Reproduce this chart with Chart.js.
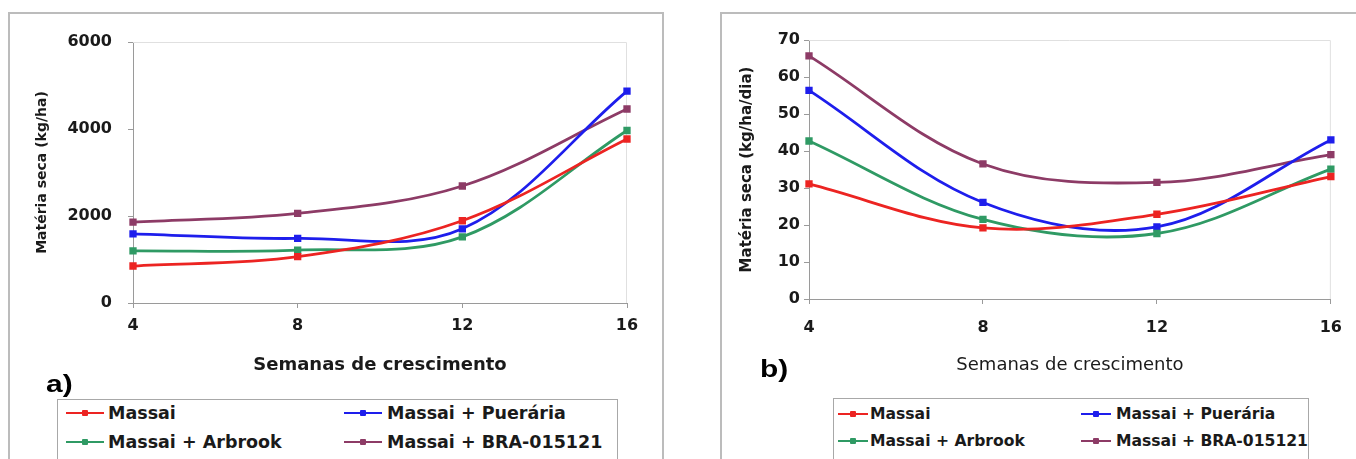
<!DOCTYPE html>
<html>
<head>
<meta charset="utf-8">
<script src="https://cdn.jsdelivr.net/npm/chart.js@4.4.1/dist/chart.umd.min.js"></script>
<style>
  body { margin: 0; background: #fff; width: 1356px; height: 459px; overflow: hidden; position: relative; font-family: 'DejaVu Sans', sans-serif; }
  .frame { position: absolute; border: 2px solid #bcbcbc; }
  #frameA { left: 8px; top: 12px; width: 652px; height: 470px; }
  #frameB { left: 720px; top: 12px; width: 660px; height: 470px; }
  .wrap { position: absolute; top: 0; height: 459px; }
  #wrapA { left: 0; width: 680px; }
  #wrapB { left: 680px; width: 676px; }
  .legend { position: absolute; border: 1px solid #a8a8a8; height: 90px; background: #fff; }
  #legA { left: 57px; top: 399px; width: 559px; }
  #legB { left: 833px; top: 398px; width: 474px; }
  .item { position: absolute; font-weight: bold; color: #1a1a1a; white-space: nowrap; line-height: 20px; }
  .sw { position: absolute; height: 2px; }
  .dot { position: absolute; width: 6px; height: 6px; top: -2px; border-radius: 1px; }
  .tag { position: absolute; font-family: 'Liberation Sans', Arial, sans-serif; font-weight: bold; font-size: 23px; line-height: 24px; color: #000; transform: scaleX(1.3); transform-origin: left center; }
</style>
</head>
<body>
<div class="frame" id="frameA"></div>
<div class="frame" id="frameB"></div>
<div class="wrap" id="wrapA"><canvas id="chartA"></canvas></div>
<div class="wrap" id="wrapB"><canvas id="chartB"></canvas></div>
<div class="tag" style="left:46px;top:372px;">a)</div>
<div class="tag" style="left:760px;top:357px;">b)</div>
<div class="legend" id="legA"></div>
<div class="legend" id="legB"></div>
<script>
// Semanas de crescimento
const weeks = ['4', '8', '12', '16'];
const seriesNames = ['Massai', 'Massai + Puerária', 'Massai + Arbrook', 'Massai + BRA-015121'];
const seriesColors = ['#ec2422', '#1e1eec', '#2f9a64', '#8d3b66'];

// a) Matéria seca (kg/ha)
const massaiA = [850, 1065, 1890, 3770];
const puerariaA = [1590, 1485, 1705, 4870];
const arbrookA = [1200, 1215, 1520, 3965];
const braA = [1860, 2060, 2690, 4460];
const yTicksA = [0, 2000, 4000, 6000];

// b) Matéria seca (kg/ha/dia)
const massaiB = [31.1, 19.2, 22.9, 33.1];
const puerariaB = [56.4, 26.1, 19.5, 43.0];
const arbrookB = [42.7, 21.5, 17.7, 35.1];
const braB = [65.7, 36.5, 31.5, 39.0];
const yTicksB = [0, 10, 20, 30, 40, 50, 60, 70];

Chart.defaults.font.family = "'DejaVu Sans', sans-serif";

// moldura clara da área do gráfico (topo e direita)
const plotFrame = {
  id: 'plotFrame',
  beforeDatasetsDraw(chart) {
    const { ctx, chartArea: a } = chart;
    ctx.save();
    ctx.strokeStyle = '#e0e0e0';
    ctx.lineWidth = 1;
    ctx.beginPath();
    ctx.moveTo(a.left, a.top + 0.5);
    ctx.lineTo(a.right - 0.5, a.top + 0.5);
    ctx.lineTo(a.right - 0.5, a.bottom);
    ctx.stroke();
    ctx.restore();
  }
};

function makeChart(id, values, yTicks, yTitle, g) {
  // ordem de desenho: Massai, Arbrook, Puerária, BRA
  const order = [0, 2, 1, 3];
  const datasets = order.map(i => ({
    label: seriesNames[i],
    data: values[i],
    borderColor: seriesColors[i],
    backgroundColor: seriesColors[i],
    borderWidth: 2.8,
    pointStyle: 'rect',
    pointRadius: 3.2,
    tension: 0.35,
    fill: false
  }));
  return new Chart(document.getElementById(id), {
    type: 'line',
    data: { labels: weeks, datasets: datasets },
    options: {
      responsive: true,
      maintainAspectRatio: false,
      animation: false,
      layout: { padding: { top: g.top, right: g.right, bottom: 0, left: 0 } },
      plugins: { legend: { display: false }, tooltip: { enabled: false } },
      scales: {
        x: {
          offset: false,
          grid: { drawOnChartArea: false, tickLength: 5, color: '#9a9a9a' },
          border: { color: '#9a9a9a' },
          ticks: { font: { size: 16, weight: 'bold' }, color: '#1a1a1a', padding: g.xPad, maxRotation: 0 },
          title: {
            display: true, text: 'Semanas de crescimento', color: '#1a1a1a',
            font: { size: 18, weight: g.xTitleWeight }, padding: { top: 0, bottom: g.xTitlePad }
          },
          afterFit(s) { s.height = g.xH; }
        },
        y: {
          min: yTicks[0],
          max: yTicks[yTicks.length - 1],
          afterBuildTicks(s) { s.ticks = yTicks.map(v => ({ value: v })); },
          grid: { drawOnChartArea: false, tickLength: 5, color: '#9a9a9a' },
          border: { color: '#9a9a9a' },
          ticks: { font: { size: 16, weight: 'bold' }, color: '#1a1a1a', padding: g.yPad, callback: v => String(v) },
          title: {
            display: true, text: yTitle, color: '#1a1a1a',
            font: { size: g.yTitleSize, weight: 'bold' }, padding: { top: g.yTitlePad, bottom: 0 }
          },
          afterFit(s) { s.width = g.yW; }
        }
      }
    },
    plugins: [plotFrame]
  });
}

makeChart('chartA', [massaiA, puerariaA, arbrookA, braA], yTicksA, 'Matéria seca (kg/ha)', {
  top: 42, right: 53, xH: 156, xPad: 8, xTitlePad: 83, xTitleWeight: 'bold',
  yW: 133, yPad: 16, yTitleSize: 14, yTitlePad: 34
});

makeChart('chartB', [massaiB, puerariaB, arbrookB, braB], yTicksB, 'Matéria seca (kg/ha/dia)', {
  top: 40, right: 18, xH: 160, xPad: 14, xTitlePad: 83, xTitleWeight: 'normal',
  yW: 129, yPad: 4, yTitleSize: 15, yTitlePad: 58
});

// Legenda em duas colunas
function buildLegend(id, fontSize, rowY, swX, swLen, textX) {
  const box = document.getElementById(id);
  seriesNames.forEach((name, i) => {
    const row = Math.floor(i / 2), col = i % 2;
    const sw = document.createElement('div');
    sw.className = 'sw';
    sw.style.left = swX[col] + 'px';
    sw.style.top = (rowY[row] - 1) + 'px';
    sw.style.width = swLen + 'px';
    sw.style.background = seriesColors[i];
    const dot = document.createElement('div');
    dot.className = 'dot';
    dot.style.left = (swLen / 2 - 3) + 'px';
    dot.style.background = seriesColors[i];
    sw.appendChild(dot);
    box.appendChild(sw);

    const txt = document.createElement('div');
    txt.className = 'item';
    txt.textContent = name;
    txt.style.fontSize = fontSize + 'px';
    txt.style.left = textX[col] + 'px';
    txt.style.top = (rowY[row] - 10) + 'px';
    box.appendChild(txt);
  });
}

buildLegend('legA', 17.5, [13, 42], [8, 286], 38, [50, 329]);
buildLegend('legB', 15.6, [15, 42], [4, 247], 30, [36, 282]);
</script>
</body>
</html>
